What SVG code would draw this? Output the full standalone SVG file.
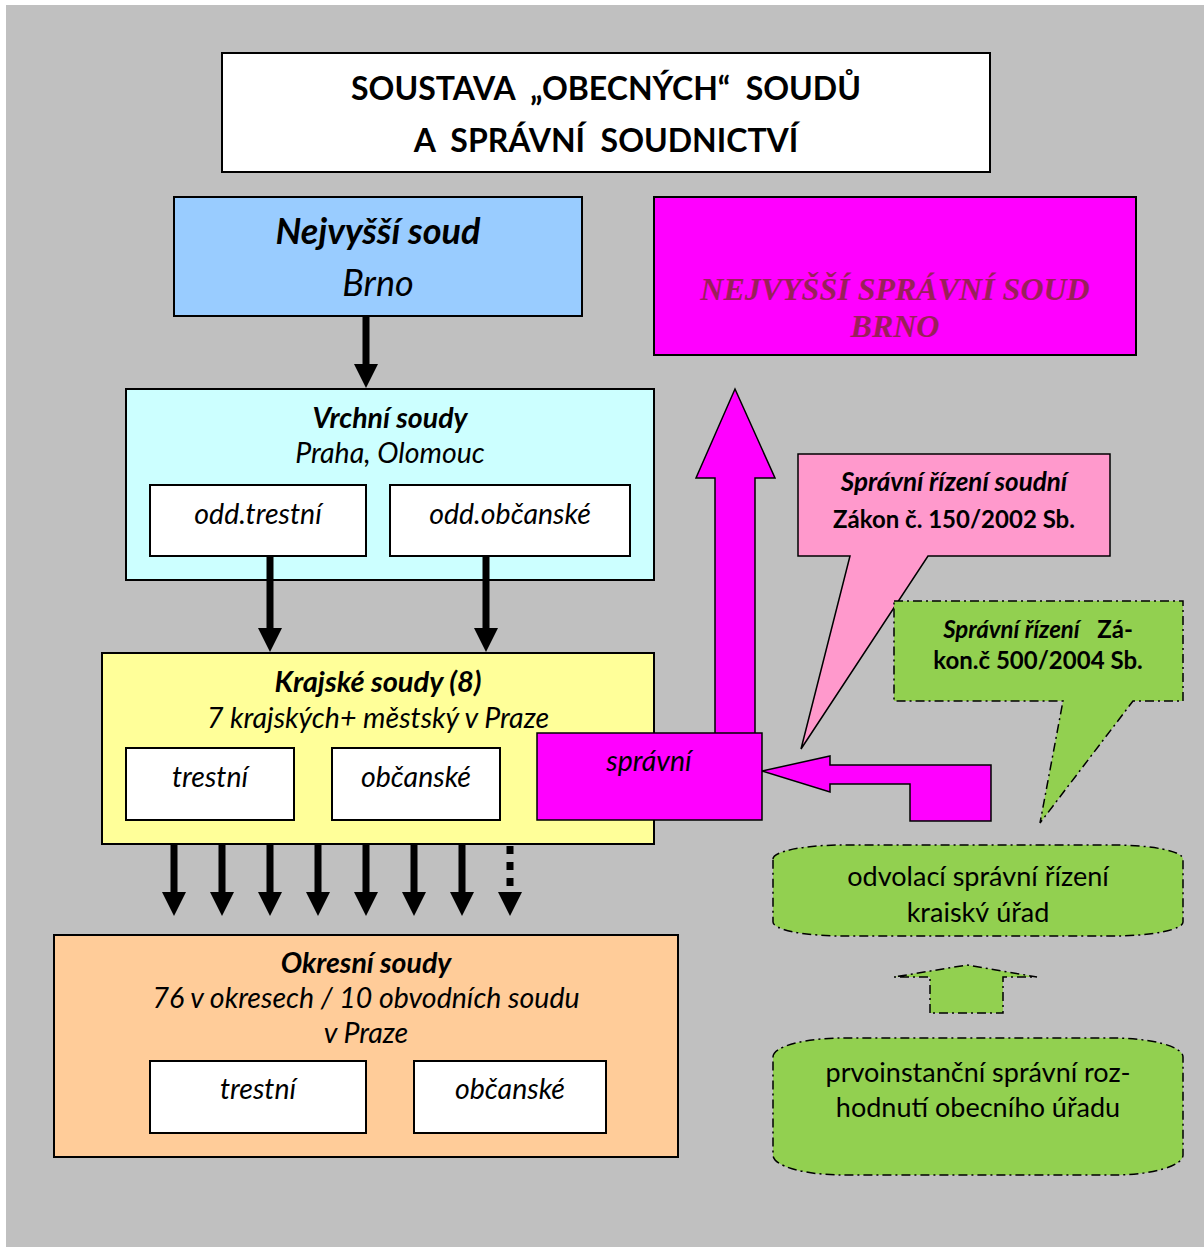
<svg xmlns="http://www.w3.org/2000/svg" width="1204" height="1247" viewBox="0 0 1204 1247">
  <style>
    .box { stroke: #000; stroke-width: 2; }
    .dash { stroke: #000; stroke-width: 1.5; stroke-dasharray: 9 4 2 4; fill: #92d050; }
    text { font-family: Lato, "Open Sans", "Liberation Sans", sans-serif; fill: #000; text-anchor: middle; white-space: pre; }
    .bi { font-weight: bold; font-style: italic; }
    .i { font-style: italic; }
    .b { font-weight: bold; }
    .conn { stroke: #000; stroke-width: 7; fill: none; }
    .head { fill: #000; }
    .mag { fill: #ff00ff; stroke: #000; stroke-width: 1.5; }
    .nss { font-family: "Liberation Serif", serif; font-weight: bold; font-style: italic; font-size: 32px; fill: #99205a; }
  </style>

  <!-- page background -->
  <rect x="6" y="5" width="1198" height="1242" fill="#c0c0c0"/>

  <!-- heading -->
  <g id="title">
    <rect class="box" x="222" y="53" width="768" height="119" fill="#fff"/>
    <text class="b" x="606" y="100" font-size="32" xml:space="preserve">SOUSTAVA  „OBECNÝCH“  SOUDŮ</text>
    <text class="b" x="606" y="152" font-size="32" xml:space="preserve">A  SPRÁVNÍ  SOUDNICTVÍ</text>
  </g>

  <g id="nejvyssi-soud">
    <rect class="box" x="174" y="197" width="408" height="119" fill="#99ccff"/>
    <text class="bi" x="378" y="244" font-size="36">Nejvyšší soud</text>
    <text class="i" x="378" y="296" font-size="36">Brno</text>
  </g>

  <g id="nejvyssi-spravni-soud">
    <rect class="box" x="654" y="197" width="482" height="158" fill="#ff00ff"/>
    <text class="nss" x="895" y="300">NEJVYŠŠÍ SPRÁVNÍ SOUD</text>
    <text class="nss" x="895" y="337">BRNO</text>
  </g>

  <g id="vrchni-soudy">
    <rect class="box" x="126" y="389" width="528" height="191" fill="#ccffff"/>
    <text class="bi" x="390" y="428" font-size="28.5">Vrchní soudy</text>
    <text class="i" x="390" y="463" font-size="28.5">Praha, Olomouc</text>
    <rect class="box" x="150" y="485" width="216" height="71" fill="#fff"/>
    <text class="i" x="258" y="524" font-size="28.5">odd.trestní</text>
    <rect class="box" x="390" y="485" width="240" height="71" fill="#fff"/>
    <text class="i" x="510" y="524" font-size="28.5">odd.občanské</text>
  </g>

  <g id="krajske-soudy">
    <rect class="box" x="102" y="653" width="552" height="191" fill="#ffff99"/>
    <text class="bi" x="378" y="692" font-size="29">Krajské soudy (8)</text>
    <text class="i" x="378" y="728" font-size="28.5">7 krajských+ městský v Praze</text>
    <rect class="box" x="126" y="748" width="168" height="72" fill="#fff"/>
    <text class="i" x="210" y="787" font-size="28.5">trestní</text>
    <rect class="box" x="332" y="748" width="168" height="72" fill="#fff"/>
    <text class="i" x="416" y="787" font-size="28.5">občanské</text>
  </g>

  <g id="okresni-soudy">
    <rect class="box" x="54" y="935" width="624" height="222" fill="#ffcc99"/>
    <text class="bi" x="366" y="973" font-size="28.5">Okresní soudy</text>
    <text class="i" x="366" y="1008" font-size="28.5">76 v okresech / 10 obvodních soudu</text>
    <text class="i" x="366" y="1043" font-size="28.5">v Praze</text>
    <rect class="box" x="150" y="1061" width="216" height="72" fill="#fff"/>
    <text class="i" x="258" y="1099" font-size="28.5">trestní</text>
    <rect class="box" x="414" y="1061" width="192" height="72" fill="#fff"/>
    <text class="i" x="510" y="1099" font-size="28.5">občanské</text>
  </g>

  <!-- connectors -->
  <g id="connectors">
    <line class="conn" x1="366" y1="316" x2="366" y2="366"/>
    <polygon class="head" points="354,364 378,364 366,388"/>
    <line class="conn" x1="270" y1="556" x2="270" y2="630"/>
    <polygon class="head" points="258,628 282,628 270,652"/>
    <line class="conn" x1="486" y1="556" x2="486" y2="630"/>
    <polygon class="head" points="474,628 498,628 486,652"/>

    <line class="conn" x1="174" y1="844" x2="174" y2="894"/>
    <polygon class="head" points="162,892 186,892 174,916"/>
    <line class="conn" x1="222" y1="844" x2="222" y2="894"/>
    <polygon class="head" points="210,892 234,892 222,916"/>
    <line class="conn" x1="270" y1="844" x2="270" y2="894"/>
    <polygon class="head" points="258,892 282,892 270,916"/>
    <line class="conn" x1="318" y1="844" x2="318" y2="894"/>
    <polygon class="head" points="306,892 330,892 318,916"/>
    <line class="conn" x1="366" y1="844" x2="366" y2="894"/>
    <polygon class="head" points="354,892 378,892 366,916"/>
    <line class="conn" x1="414" y1="844" x2="414" y2="894"/>
    <polygon class="head" points="402,892 426,892 414,916"/>
    <line class="conn" x1="462" y1="844" x2="462" y2="894"/>
    <polygon class="head" points="450,892 474,892 462,916"/>
    <line class="conn" x1="510" y1="846" x2="510" y2="888" stroke-dasharray="8 8"/>
    <polygon class="head" points="498,892 522,892 510,916"/>

    <!-- block arrow up to the administrative supreme court -->
    <polygon class="mag" points="715,734 715,478 696,478 735,389 775,478 755,478 755,734"/>
    <!-- bent block arrow into the administrative section -->
    <polygon class="mag" points="762,771 830,756 830,765 991,765 991,821 910,821 910,784 830,784 830,792"/>
    <!-- small dashed arrow between the two administrative stages -->
    <polygon class="dash" points="930,1013 930,977 894,977 967,965 1037,977 1003,977 1003,1013"/>
  </g>

  <g id="spravni">
    <rect class="mag" x="537" y="733" width="225" height="87"/>
    <text class="i" x="649" y="771" font-size="28.5">správní</text>
  </g>

  <g id="spravni-rizeni-soudni">
    <path d="M798,454 L1110,454 L1110,556 L928,556 L801,749 L850,556 L798,556 Z" fill="#ff99cc" stroke="#000" stroke-width="1.5"/>
    <text class="bi" x="954" y="491" font-size="26">Správní řízení soudní</text>
    <text class="b" x="954" y="528" font-size="24">Zákon č. 150/2002 Sb.</text>
  </g>

  <g id="spravni-rizeni">
    <path class="dash" d="M894,601 L1183,601 L1183,701 L1133,701 L1040,823 L1063,701 L894,701 Z"/>
    <text class="b" x="1038" y="638" font-size="24" xml:space="preserve"><tspan font-style="italic">Správní řízení</tspan>   Zá-</text>
    <text class="b" x="1038" y="669" font-size="24">kon.č 500/2004 Sb.</text>
  </g>

  <g id="odvolaci-rizeni">
    <path class="dash" d="M773,859 A70,14 0 0 1 843,845 L1113,845 A70,14 0 0 1 1183,859 L1183,922 A70,14 0 0 1 1113,936 L843,936 A70,14 0 0 1 773,922 Z"/>
    <text x="978" y="886" font-size="27">odvolací správní řízení</text>
    <text x="978" y="922" font-size="27">kraiskv́ úřad</text>
  </g>

  <g id="prvoinstancni-rozhodnuti">
    <path class="dash" d="M773,1057 A70,19 0 0 1 843,1038 L1113,1038 A70,19 0 0 1 1183,1057 L1183,1155 A70,20 0 0 1 1113,1175 L843,1175 A70,20 0 0 1 773,1155 Z"/>
    <text x="978" y="1082" font-size="27">prvoinstanční správní roz-</text>
    <text x="978" y="1117" font-size="27">hodnutí obecního úřadu</text>
  </g>
</svg>
